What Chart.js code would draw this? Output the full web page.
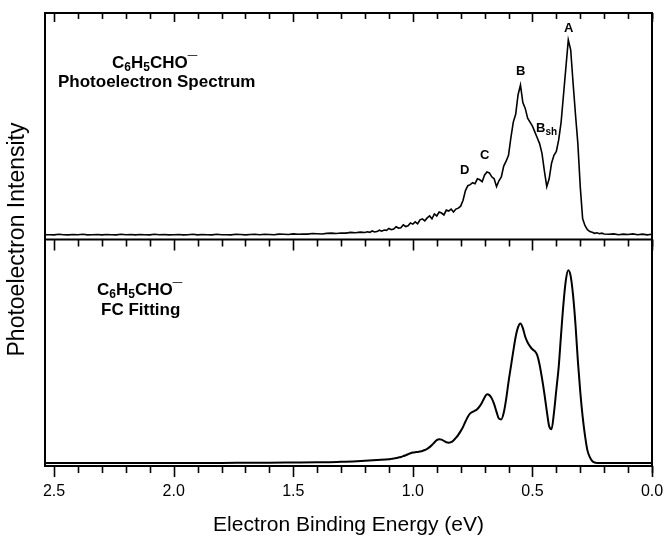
<!DOCTYPE html>
<html>
<head>
<meta charset="utf-8">
<script src="https://cdn.jsdelivr.net/npm/chart.js@4.4.1/dist/chart.umd.min.js"></script>
<style>
  body { margin: 0; background: #fff; }
  canvas { display: block; }
</style>
</head>
<body>
<canvas id="pes" width="664" height="536"></canvas>
<script>
// measured photoelectron spectrum (top panel), binding energy in eV
const specEnergy = [
  0.00,0.02,0.04,0.06,0.08,0.10,0.12,0.14,0.16,0.18,
  0.20,0.21,0.22,0.23,0.24,0.25,0.26,0.27,0.28,0.29,
  0.30,0.31,0.32,0.33,0.34,0.35,0.36,0.37,0.38,0.39,
  0.40,0.41,0.42,0.43,0.44,0.45,0.46,0.47,0.48,0.49,
  0.50,0.51,0.52,0.53,0.54,0.55,0.56,0.57,0.58,0.59,
  0.60,0.61,0.62,0.63,0.64,0.65,0.66,0.67,0.68,0.69,
  0.70,0.71,0.72,0.73,0.74,0.75,0.76,0.77,0.78,0.79,
  0.80,0.81,0.82,0.83,0.84,0.85,0.86,0.87,0.88,0.89,
  0.90,0.91,0.92,0.93,0.94,0.95,0.96,0.97,0.98,0.99,
  1.00,1.01,1.02,1.03,1.04,1.05,1.06,1.07,1.08,1.09,
  1.10,1.11,1.12,1.13,1.14,1.15,1.16,1.17,1.18,1.19,
  1.20,
  1.22,1.24,1.26,1.28,1.30,1.32,1.34,1.36,1.38,1.40,
  1.42,1.44,1.46,1.48,1.50,1.52,1.54,1.56,1.58,1.60,
  1.62,1.64,1.66,1.68,1.70,1.72,1.74,1.76,1.78,1.80,
  1.82,1.84,1.86,1.88,1.90,1.92,1.94,1.96,1.98,2.00,
  2.02,2.04,2.06,2.08,2.10,2.12,2.14,2.16,2.18,2.20,
  2.22,2.24,2.26,2.28,2.30,2.32,2.34,2.36,2.38,2.40,
  2.42,2.44,2.46,2.48,2.50,2.52,2.54
];
const specIntensity = [
  0.006,0.003,0.007,0.004,0.008,0.005,0.007,0.004,0.008,0.006,
  0.008,0.012,0.009,0.014,0.011,0.016,0.020,0.030,0.050,0.085,
  0.25,0.47,0.62,0.78,0.95,1.00,0.86,0.72,0.58,0.49,
  0.43,0.41,0.37,0.29,0.25,0.33,0.42,0.47,0.50,0.53,
  0.56,0.58,0.60,0.65,0.68,0.77,0.72,0.62,0.58,0.50,
  0.41,0.38,0.355,0.30,0.28,0.25,0.29,0.30,0.32,0.325,
  0.31,0.275,0.285,0.29,0.265,0.27,0.26,0.255,0.23,0.18,
  0.15,0.14,0.135,0.12,0.135,0.125,0.13,0.105,0.115,0.12,
  0.10,0.11,0.085,0.10,0.09,0.075,0.085,0.08,0.06,0.07,
  0.058,0.064,0.05,0.046,0.055,0.04,0.038,0.045,0.033,0.03,
  0.036,0.026,0.028,0.022,0.027,0.02,0.018,0.023,0.016,0.019,
  0.015,
  0.017,0.014,0.016,0.012,0.013,0.010,0.012,0.011,0.008,0.009,
  0.010,0.007,0.008,0.006,0.008,0.005,0.006,0.007,0.004,0.005,
  0.006,0.004,0.006,0.005,0.003,0.005,0.006,0.003,0.004,0.004,
  0.006,0.003,0.004,0.005,0.003,0.006,0.004,0.003,0.005,0.004,
  0.003,0.005,0.004,0.006,0.003,0.004,0.005,0.003,0.005,0.004,
  0.006,0.003,0.004,0.005,0.003,0.005,0.004,0.003,0.006,0.004,
  0.005,0.003,0.004,0.006,0.003,0.004,0.004
];

// Franck-Condon fit (bottom panel)
const fitEnergy = [
  0.00,0.10,0.20,
  0.22,0.23,0.24,0.25,0.26,0.27,0.28,0.29,
  0.30,0.31,0.32,0.33,0.34,0.35,0.36,0.37,0.38,0.39,
  0.40,0.41,0.42,0.43,0.44,0.45,0.46,0.47,0.48,0.49,
  0.50,0.51,0.52,0.53,0.54,0.55,0.56,0.57,0.58,0.59,
  0.60,0.61,0.62,0.63,0.64,0.65,0.66,0.67,0.68,0.69,
  0.70,0.71,0.72,0.73,0.74,0.75,0.76,0.77,0.78,0.79,
  0.80,0.81,0.82,0.83,0.84,0.85,0.86,0.87,0.88,0.89,
  0.90,0.91,0.92,0.93,0.94,0.95,0.96,0.97,0.98,0.99,
  1.00,1.01,1.02,1.03,1.04,1.05,1.06,1.07,1.08,1.09,
  1.10,1.15,1.20,1.25,1.30,1.35,1.40,1.50,1.60,1.70,
  1.80,2.00,2.20,2.54
];
const fitIntensity = [
  0,0,0,
  0,0,0.002,0.01,0.03,0.065,0.14,0.24,
  0.37,0.53,0.72,0.87,0.97,1.0,0.95,0.83,0.67,0.5,
  0.38,0.26,0.175,0.19,0.27,0.36,0.44,0.51,0.56,0.58,
  0.59,0.605,0.625,0.655,0.70,0.724,0.705,0.655,0.58,0.50,
  0.42,0.33,0.26,0.226,0.23,0.265,0.305,0.335,0.352,0.356,
  0.34,0.315,0.295,0.28,0.271,0.265,0.257,0.24,0.215,0.187,
  0.165,0.146,0.13,0.117,0.108,0.105,0.107,0.114,0.121,0.123,
  0.118,0.106,0.093,0.082,0.073,0.067,0.062,0.059,0.057,0.056,
  0.054,0.05,0.045,0.04,0.035,0.031,0.028,0.025,0.023,0.021,
  0.019,0.015,0.011,0.008,0.006,0.004,0.003,0.002,0.001,0.0005,
  0,0,0,0
];

const xTickValues = [0, 0.5, 1.0, 1.5, 2.0, 2.5];
const xTickLabels = ['0.0', '0.5', '1.0', '1.5', '2.0', '2.5'];
const minorTicks = [0,0.1,0.2,0.3,0.4,0.6,0.7,0.8,0.9,1.1,1.2,1.3,1.4,1.6,1.7,1.8,1.9,2.1,2.2,2.3,2.4];

// peak letters in the upper panel: [text, subscript, energy, intensity]
const peakLabels = [
  ['A', '', 0.348, 1.06],
  ['B', '', 0.549, 0.84],
  ['B', 'sh', 0.465, 0.55],
  ['C', '', 0.700, 0.41],
  ['D', '', 0.783, 0.335]
];

const FONT = '"Liberation Sans", Arial, sans-serif';
Chart.defaults.font.family = FONT;
Chart.defaults.color = '#000';

function zip(xs, ys) {
  return xs.map((x, i) => ({x: x, y: ys[i]}));
}

// text with subscripts: parts = [[text, kind]] kind 0 normal, 1 sub
function drawRich(ctx, parts, x, y, size) {
  let cx = x;
  parts.forEach(function (p) {
    const small = p[1] === 1;
    const fs = small ? Math.round(size * 0.68) : size;
    ctx.font = 'bold ' + fs + 'px ' + FONT;
    ctx.fillText(p[0], cx, y + (small ? size * 0.2 : 0));
    cx += ctx.measureText(p[0]).width;
  });
}

const anion = [['C', 0], ['6', 1], ['H', 0], ['5', 1], ['CHO', 0], ['\u00AF', 0]];

const framePlugin = {
  id: 'frame',
  afterDatasetsDraw(chart) {
    const ctx = chart.ctx;
    const a = chart.chartArea;
    const x = chart.scales.x;
    const mid = chart.scales.yTop.bottom;
    ctx.save();
    ctx.strokeStyle = '#000';
    ctx.lineWidth = 2;
    ctx.strokeRect(a.left, a.top, a.right - a.left, a.bottom - a.top);
    ctx.beginPath();
    ctx.moveTo(a.left, mid);
    ctx.lineTo(a.right, mid);
    ctx.stroke();

    ctx.lineWidth = 1.6;
    function ticks(values, len) {
      values.forEach(function (v) {
        const px = Math.round(x.getPixelForValue(v)) + 0.5;
        ctx.beginPath();
        ctx.moveTo(px, a.top); ctx.lineTo(px, a.top + len[0]);
        ctx.moveTo(px, mid); ctx.lineTo(px, mid + len[1]);
        ctx.moveTo(px, a.bottom); ctx.lineTo(px, a.bottom + len[2]);
        ctx.stroke();
      });
    }
    ticks(xTickValues, [9, 11, 11]);
    ticks(minorTicks, [6, 7, 7]);
    ctx.restore();
  },
  afterDraw(chart) {
    const ctx = chart.ctx;
    const x = chart.scales.x;
    const yTop = chart.scales.yTop;
    const a = chart.chartArea;
    ctx.save();
    ctx.fillStyle = '#000';
    ctx.textBaseline = 'alphabetic';
    ctx.textAlign = 'left';

    drawRich(ctx, anion, 112, 68, 17);
    ctx.font = 'bold 17px ' + FONT;
    ctx.fillText('Photoelectron Spectrum', 58, 87);

    drawRich(ctx, anion, 97, 295, 17);
    ctx.font = 'bold 17px ' + FONT;
    ctx.fillText('FC Fitting', 101, 315);

    // peak letters
    ctx.textBaseline = 'middle';
    peakLabels.forEach(function (p) {
      const px = x.getPixelForValue(p[2]);
      const py = yTop.getPixelForValue(p[3]);
      ctx.font = 'bold 13px ' + FONT;
      const w = ctx.measureText(p[0]).width;
      ctx.textAlign = 'left';
      ctx.fillText(p[0], px - w / 2, py);
      if (p[1]) {
        ctx.font = 'bold 10px ' + FONT;
        ctx.fillText(p[1], px + w / 2, py + 4);
      }
    });

    // shared y title
    ctx.translate(18, (a.top + a.bottom) / 2);
    ctx.rotate(-Math.PI / 2);
    ctx.textAlign = 'center';
    ctx.font = '23px ' + FONT;
    ctx.fillText('Photoelectron Intensity', 0, 0);
    ctx.restore();
  }
};

new Chart(document.getElementById('pes'), {
  type: 'line',
  data: {
    datasets: [
      {
        label: 'PES',
        data: zip(specEnergy, specIntensity),
        yAxisID: 'yTop',
        borderColor: '#000',
        borderWidth: 1.6,
        pointRadius: 0,
        tension: 0
      },
      {
        label: 'FC fit',
        data: zip(fitEnergy, fitIntensity),
        yAxisID: 'yBot',
        borderColor: '#000',
        borderWidth: 2,
        pointRadius: 0,
        cubicInterpolationMode: 'monotone'
      }
    ]
  },
  options: {
    responsive: false,
    animation: false,
    layout: {padding: {left: 45, right: 12, top: 13, bottom: 0}},
    plugins: {legend: {display: false}, tooltip: {enabled: false}},
    scales: {
      x: {
        type: 'linear',
        reverse: true,
        min: 0,
        max: 2.538,
        grid: {display: false, drawTicks: false},
        border: {display: false},
        afterBuildTicks: function (scale) {
          scale.ticks = xTickValues.map(v => ({value: v}));
        },
        afterFit: function (scale) {
          scale.height = 70;
        },
        ticks: {
          padding: 16,
          maxRotation: 0,
          font: {size: 16},
          callback: function (v, i) { return xTickLabels[i]; }
        },
        title: {
          display: true,
          text: 'Electron Binding Energy (eV)',
          font: {size: 21, lineHeight: 1},
          padding: {top: 0, bottom: 0}
        }
      },
      yTop: {
        type: 'linear',
        display: false,
        position: 'left',
        stack: 'panels',
        stackWeight: 1,
        weight: 1,
        min: -0.0205,
        max: 1.138
      },
      yBot: {
        type: 'linear',
        display: false,
        position: 'left',
        stack: 'panels',
        stackWeight: 1,
        weight: 0,
        min: -0.016,
        max: 1.16
      }
    }
  },
  plugins: [framePlugin]
});
</script>
</body>
</html>
